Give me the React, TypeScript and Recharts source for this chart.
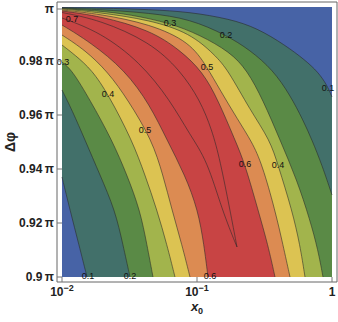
import React from 'react';
import { ComposedChart, Area, Line, Scatter, XAxis, YAxis, ReferenceArea } from 'recharts';

// contour lines, points are [x0, Δφ/π]
// "Upper" = branch between the ridge and Δφ = π, "Lower" = branch below the ridge
const piEdge = [[0.01, 1], [1, 1]];

const c01Upper = [[0.01, 0.99981], [0.01912, 0.99963], [0.04485, 0.99907], [0.08873, 0.99815], [0.1755, 0.99556], [0.2783, 0.99222], [0.4485, 0.98593], [0.631, 0.98037], [0.7877, 0.97593], [0.9183, 0.97111], [1, 0.96667]];
const c02Upper = [[0.01, 0.99963], [0.01912, 0.99907], [0.04485, 0.99778], [0.08873, 0.99556], [0.164, 0.98963], [0.247, 0.98407], [0.3656, 0.97667], [0.4886, 0.96741], [0.6099, 0.95815], [0.711, 0.95074], [0.8431, 0.94148], [1, 0.93037]];
const c03Upper = [[0.01, 0.99944], [0.01912, 0.99852], [0.0319, 0.99722], [0.0631, 0.99407], [0.1052, 0.98963], [0.1755, 0.98333], [0.2347, 0.97667], [0.3083, 0.96556], [0.412, 0.95074], [0.5503, 0.93593], [0.6871, 0.92111], [0.7877, 0.91], [0.8577, 0.9]];
const c04Upper = [[0.01, 0.99926], [0.01912, 0.99796], [0.04485, 0.99519], [0.08873, 0.99037], [0.1359, 0.98222], [0.1697, 0.97667], [0.247, 0.96185], [0.3474, 0.95074], [0.3981, 0.94148], [0.5054, 0.92481], [0.5794, 0.91185], [0.631, 0.9]];
const c05Upper = [[0.01, 0.99889], [0.01912, 0.99741], [0.04485, 0.9937], [0.08873, 0.98704], [0.1186, 0.97778], [0.1481, 0.96926], [0.2012, 0.95815], [0.2555, 0.95], [0.303, 0.94185], [0.3783, 0.92481], [0.4335, 0.91185], [0.4886, 0.9]];
const c06Upper = [[0.01, 0.99852], [0.01912, 0.99667], [0.04485, 0.99148], [0.07482, 0.98407], [0.1107, 0.97593], [0.1431, 0.96556], [0.1912, 0.95074], [0.2268, 0.94185], [0.2831, 0.92481], [0.3357, 0.91185], [0.3783, 0.9]];
const c07Upper = [[0.01, 0.99796], [0.01912, 0.99519], [0.04485, 0.98704], [0.07482, 0.97667], [0.1052, 0.96556], [0.1292, 0.95444], [0.1481, 0.94333], [0.1755, 0.92481], [0.1978, 0.91111]];

const c07Lower = [[0.01, 0.99593], [0.01912, 0.99074], [0.03783, 0.97963], [0.0631, 0.96556], [0.08873, 0.95259], [0.1186, 0.94333], [0.1532, 0.92481], [0.1978, 0.91111]];
const c06Lower = [[0.01, 0.99333], [0.01612, 0.98704], [0.02929, 0.97667], [0.04485, 0.9637], [0.05995, 0.95074], [0.08147, 0.93778], [0.1017, 0.92481], [0.1127, 0.91185], [0.1206, 0.9]];
const c05Lower = [[0.01, 0.98963], [0.01481, 0.98407], [0.02192, 0.97593], [0.03083, 0.96556], [0.04642, 0.95074], [0.05597, 0.93778], [0.06529, 0.92481], [0.07743, 0.91185], [0.08873, 0.9]];
const c04Lower = [[0.01, 0.98593], [0.01248, 0.98222], [0.01668, 0.97667], [0.02192, 0.96778], [0.03301, 0.95074], [0.0412, 0.93778], [0.05054, 0.92481], [0.05995, 0.91185], [0.06871, 0.9]];
const c03Lower = [[0.01, 0.97963], [0.01186, 0.97667], [0.01612, 0.96556], [0.02347, 0.95074], [0.0303, 0.93778], [0.03783, 0.92481], [0.04262, 0.91185], [0.04722, 0.9]];
const c02Lower = [[0.01, 0.96926], [0.01186, 0.96185], [0.01481, 0.95074], [0.01912, 0.93778], [0.0247, 0.92481], [0.02831, 0.91185], [0.0319, 0.9]];
const c01Lower = [[0.01, 0.93704], [0.01146, 0.92481], [0.01336, 0.91185], [0.01532, 0.9]];

const contourLabels = [
  { x: 0.01186, y: 0.99556, label: '0.7' },
  { x: 0.0631, y: 0.99407, label: '0.3' },
  { x: 0.164, y: 0.98963, label: '0.2' },
  { x: 0.9341, y: 0.97, label: '0.1' },
  { x: 0.01017, y: 0.97963, label: '0.3' },
  { x: 0.02192, y: 0.96778, label: '0.4' },
  { x: 0.1186, y: 0.97778, label: '0.5' },
  { x: 0.0412, y: 0.95444, label: '0.5' },
  { x: 0.2268, y: 0.94185, label: '0.6' },
  { x: 0.3981, y: 0.94148, label: '0.4' },
  { x: 0.01558, y: 0.90037, label: '0.1' },
  { x: 0.0319, y: 0.90037, label: '0.2' },
  { x: 0.1248, y: 0.90037, label: '0.6' },
];

const xTicks = [0.01, 0.1, 1];
const yTicks = [0.9, 0.92, 0.94, 0.96, 0.98, 1];

const BLUE = '#4763a6';
const TEAL = '#42706a';
const GREEN = '#5a8a46';
const YGREEN = '#a2b44c';
const YELLOW = '#dcc352';
const ORANGE = '#dc8b52';
const RED = '#c84444';
const LINE = 'rgba(40,40,40,0.7)';

// 5px of padding between frame and plot, as in the original
const padX = 5 / 135;
const padY = 5 / 2700;
const xDomain = [Math.pow(10, -2 - padX), Math.pow(10, padX)];
const yDomain = [0.9 - padY, 1 + padY];

const pts = (arr: number[][]) => arr.map(([x, y]) => ({ x, y }));

// painting order: each area covers everything under its curve
const bands: { d: number[][]; fill: string }[] = [
  { d: piEdge, fill: BLUE },
  { d: c01Upper, fill: TEAL },
  { d: c02Upper, fill: GREEN },
  { d: c03Upper, fill: YGREEN },
  { d: c04Upper, fill: YELLOW },
  { d: c05Upper, fill: ORANGE },
  { d: c06Upper, fill: RED },
  { d: c06Lower, fill: ORANGE },
  { d: c05Lower, fill: YELLOW },
  { d: c04Lower, fill: YGREEN },
  { d: c03Lower, fill: GREEN },
  { d: c02Lower, fill: TEAL },
  { d: c01Lower, fill: BLUE },
];

const font = '"Liberation Sans", Arial, sans-serif';

const XTick = (props: any) => {
  const { x, y, payload } = props;
  const e = Math.round(Math.log10(payload.value));
  return (
    <g>
      <line x1={x} x2={x} y1={y} y2={y - 5} stroke="#777" />
      <text x={x} y={y + 14} textAnchor="middle" fontFamily={font} fontWeight="bold" fontSize={12} fill="#222">
        {e === 0 ? '1' : (
          <>
            10
            <tspan dy={-5} fontSize={9}>{e === -1 ? '−1' : '−2'}</tspan>
          </>
        )}
      </text>
    </g>
  );
};

const YTick = (props: any) => {
  const { x, y, payload } = props;
  const v = payload.value;
  const txt = v === 1 ? 'π' : `${Number(v.toFixed(2))}\u2009π`;
  return (
    <g>
      <line x1={x} x2={x + 5} y1={y} y2={y} stroke="#777" />
      <text x={x - 3} y={y + 4} textAnchor="end" fontFamily={font} fontWeight="bold" fontSize={12} fill="#222">
        {txt}
      </text>
    </g>
  );
};

const XLabel = () => (
  <text x={197} y={311} textAnchor="middle" fontFamily={font} fontWeight="bold" fontStyle="italic" fontSize={13} fill="#222">
    x<tspan dy={3} fontSize={9} fontStyle="normal">0</tspan>
  </text>
);

const YLabel = () => (
  <text x={15} y={142} textAnchor="middle" transform="rotate(-90 15 142)" fontFamily={font} fontWeight="bold" fontSize={14} fill="#222">
    Δφ
  </text>
);

const LabelShape = (props: any) => {
  const { cx, cy, payload } = props;
  return (
    <text x={cx} y={cy + 3} textAnchor="middle" fontFamily={font} fontSize={9} fill="#111">
      {payload.label}
    </text>
  );
};

export default function App() {
  return (
    <div style={{ position: 'absolute', left: 0, top: 0, background: '#fff' }}>
      <ComposedChart width={338} height={322} margin={{ top: 2, right: 1, bottom: 0, left: 0 }}>
        <XAxis
          dataKey="x"
          type="number"
          scale="log"
          domain={xDomain}
          allowDataOverflow
          ticks={xTicks}
          tick={<XTick />}
          tickLine={false}
          tickSize={0}
          tickMargin={0}
          axisLine={false}
          height={40}
          label={<XLabel />}
        />
        <YAxis
          dataKey="y"
          type="number"
          domain={yDomain}
          allowDataOverflow
          ticks={yTicks}
          tick={<YTick />}
          tickLine={false}
          tickSize={0}
          tickMargin={0}
          axisLine={false}
          width={57}
          label={<YLabel />}
        />
        {bands.map((b, i) => (
          <Area
            key={`band-${i}`}
            data={pts(b.d)}
            dataKey="y"
            type="basis"
            baseValue={0.9}
            fill={b.fill}
            fillOpacity={1}
            stroke={i === 0 ? 'none' : LINE}
            strokeWidth={0.8}
            dot={false}
            activeDot={false}
            isAnimationActive={false}
          />
        ))}
        <Line data={pts(c07Upper)} dataKey="y" type="basis" stroke={LINE} strokeWidth={0.8} dot={false} isAnimationActive={false} />
        <Line data={pts(c07Lower)} dataKey="y" type="basis" stroke={LINE} strokeWidth={0.8} dot={false} isAnimationActive={false} />
        <Scatter data={contourLabels} dataKey="y" shape={<LabelShape />} isAnimationActive={false} />
        <ReferenceArea
          x1={xDomain[0]}
          x2={xDomain[1]}
          y1={yDomain[0]}
          y2={yDomain[1]}
          fill="none"
          stroke="#666"
          strokeWidth={1}
          ifOverflow="visible"
        />
      </ComposedChart>
    </div>
  );
}
